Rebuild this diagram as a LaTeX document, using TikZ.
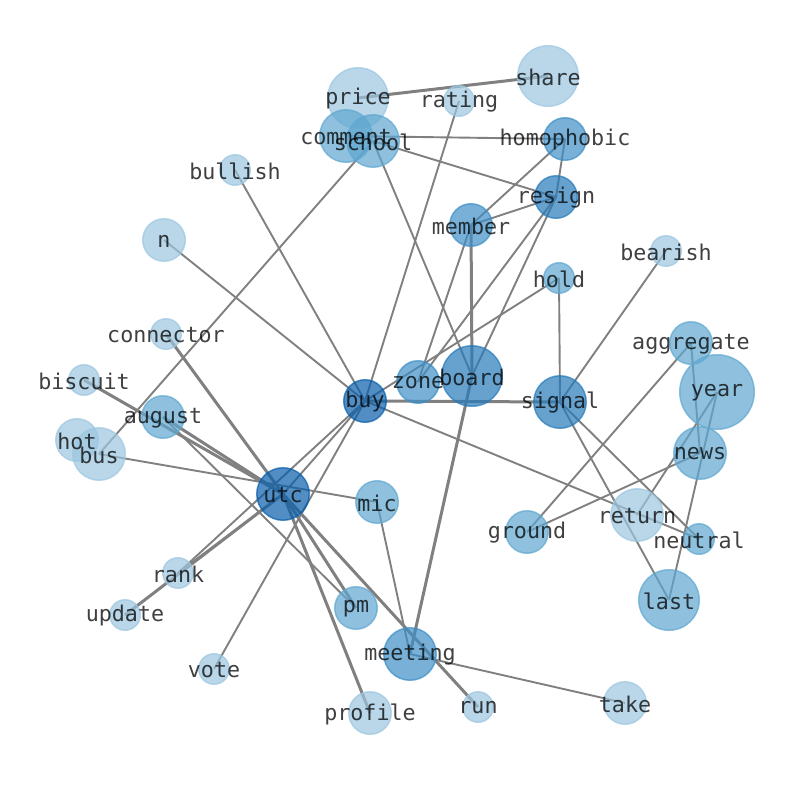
\documentclass[tikz,border=0pt]{standalone}
\usepackage{fontspec}
\newfontfamily\labfont{DejaVu Sans Mono}
\usetikzlibrary{backgrounds}
\definecolor{cA}{HTML}{9CC6E0}
\definecolor{cB}{HTML}{5FA7D0}
\definecolor{cC}{HTML}{3E8EC6}
\definecolor{cD}{HTML}{277AB9}
\definecolor{cE}{HTML}{085EAB}
\definecolor{edgecol}{RGB}{128,128,128}
\begin{document}
\begin{tikzpicture}[x=1pt,y=-1pt,
  vtx/.style={circle, inner sep=0pt, line width=1.5pt, opacity=0.7},
  rS/.style={minimum size=30.5pt},
  rM/.style={minimum size=42.5pt},
  rL/.style={minimum size=52.5pt},
  rX/.style={minimum size=60.5pt},
  rXX/.style={minimum size=74.5pt},
  kA/.style={fill=cA, draw=cA},
  kB/.style={fill=cB, draw=cB},
  kC/.style={fill=cC, draw=cC},
  kD/.style={fill=cD, draw=cD},
  kE/.style={fill=cE, draw=cE},
  edge/.style={draw=edgecol, line width=1.9pt},
  thickedge/.style={draw=edgecol, line width=3pt},
  lab/.style={font=\labfont\fontsize{21.7}{24}\selectfont, text=black, text opacity=0.75, inner sep=0pt}]
\useasboundingbox (0,0) rectangle (794,790);
% nodes
\node[vtx,rX,kA] (price) at (358,98) {};
\node[vtx,rX,kA] (share) at (548,76) {};
\node[vtx,rS,kA] (rating) at (459,101) {};
\node[vtx,rL,kB] (comment) at (346,136) {};
\node[vtx,rL,kB] (school) at (373,141) {};
\node[vtx,rM,kC] (homophobic) at (565,139) {};
\node[vtx,rM,kD] (resign) at (556,197) {};
\node[vtx,rM,kC] (member) at (471,225) {};
\node[vtx,rS,kA] (bullish) at (235,170) {};
\node[vtx,rM,kA] (n) at (164,240) {};
\node[vtx,rS,kA] (bearish) at (666,251) {};
\node[vtx,rS,kB] (hold) at (559,278) {};
\node[vtx,rS,kA] (connector) at (166,334) {};
\node[vtx,rS,kA] (biscuit) at (84,380) {};
\node[vtx,rM,kB] (august) at (163,417) {};
\node[vtx,rM,kA] (hot) at (77,440) {};
\node[vtx,rL,kA] (bus) at (99,454) {};
\node[vtx,rM,kE] (buy) at (365,401) {};
\node[vtx,rM,kC] (zone) at (418,382) {};
\node[vtx,rX,kD] (board) at (472,376) {};
\node[vtx,rL,kD] (signal) at (560,402) {};
\node[vtx,rM,kB] (aggregate) at (691,343) {};
\node[vtx,rXX,kB] (year) at (717,392) {};
\node[vtx,rL,kB] (news) at (700,453) {};
\node[vtx,rL,kE] (utc) at (283,494) {};
\node[vtx,rM,kB] (mic) at (377,502) {};
\node[vtx,rM,kB] (ground) at (527,532) {};
\node[vtx,rL,kA] (return) at (637,515) {};
\node[vtx,rS,kB] (neutral) at (699,539) {};
\node[vtx,rX,kB] (last) at (669,600) {};
\node[vtx,rS,kA] (rank) at (178,573) {};
\node[vtx,rS,kA] (update) at (125,615) {};
\node[vtx,rM,kB] (pm) at (356,608) {};
\node[vtx,rL,kC] (meeting) at (410,654) {};
\node[vtx,rS,kA] (vote) at (214,669) {};
\node[vtx,rM,kA] (profile) at (370,713) {};
\node[vtx,rS,kA] (run) at (478,707) {};
\node[vtx,rM,kA] (take) at (625,703) {};
% edges
\begin{scope}[on background layer]
\draw[thickedge] (price.center) -- (share.center);
\draw[edge] (rating.center) -- (buy.center);
\draw[edge] (comment.center) -- (homophobic.center);
\draw[edge] (school.center) -- (resign.center);
\draw[edge] (school.center) -- (board.center);
\draw[edge] (school.center) -- (bus.center);
\draw[edge] (homophobic.center) -- (member.center);
\draw[edge] (homophobic.center) -- (resign.center);
\draw[edge] (member.center) -- (resign.center);
\draw[thickedge] (member.center) -- (board.center);
\draw[edge] (member.center) -- (zone.center);
\draw[edge] (resign.center) -- (zone.center);
\draw[edge] (resign.center) -- (board.center);
\draw[edge] (hold.center) -- (buy.center);
\draw[edge] (hold.center) -- (signal.center);
\draw[edge] (bullish.center) -- (buy.center);
\draw[edge] (n.center) -- (buy.center);
\draw[thickedge] (connector.center) -- (utc.center);
\draw[thickedge] (utc.center) -- (pm.center);
\draw[thickedge] (biscuit.center) -- (utc.center);
\draw[thickedge] (august.center) -- (utc.center);
\draw[edge] (august.center) -- (pm.center);
\draw[edge] (bus.center) -- (mic.center);
\draw[edge] (utc.center) -- (buy.center);
\draw[edge] (vote.center) -- (buy.center);
\draw[edge] (buy.center) -- (rank.center);
\draw[edge] (utc.center) -- (rank.center);
\draw[thickedge] (utc.center) -- (update.center);
\draw[thickedge] (buy.center) -- (signal.center);
\draw[edge] (buy.center) -- (neutral.center);
\draw[edge] (signal.center) -- (bearish.center);
\draw[edge] (signal.center) -- (last.center);
\draw[edge] (signal.center) -- (neutral.center);
\draw[edge] (aggregate.center) -- (ground.center);
\draw[edge] (aggregate.center) -- (news.center);
\draw[edge] (news.center) -- (ground.center);
\draw[edge] (year.center) -- (last.center);
\draw[edge] (year.center) -- (return.center);
\draw[edge] (mic.center) -- (meeting.center);
\draw[thickedge] (board.center) -- (meeting.center);
\draw[edge] (meeting.center) -- (take.center);
\draw[thickedge] (utc.center) -- (run.center);
\draw[thickedge] (utc.center) -- (profile.center);
\end{scope}
% labels
\foreach \v in {price,share,rating,comment,school,homophobic,resign,member,bullish,n,bearish,hold,connector,biscuit,august,hot,bus,buy,zone,board,signal,aggregate,year,news,utc,mic,ground,return,neutral,last,rank,update,pm,meeting,vote,profile,run,take}
  \node[lab] (\v-l) at ([yshift=-1pt]\v.center) {\v};
\end{tikzpicture}
\end{document}
